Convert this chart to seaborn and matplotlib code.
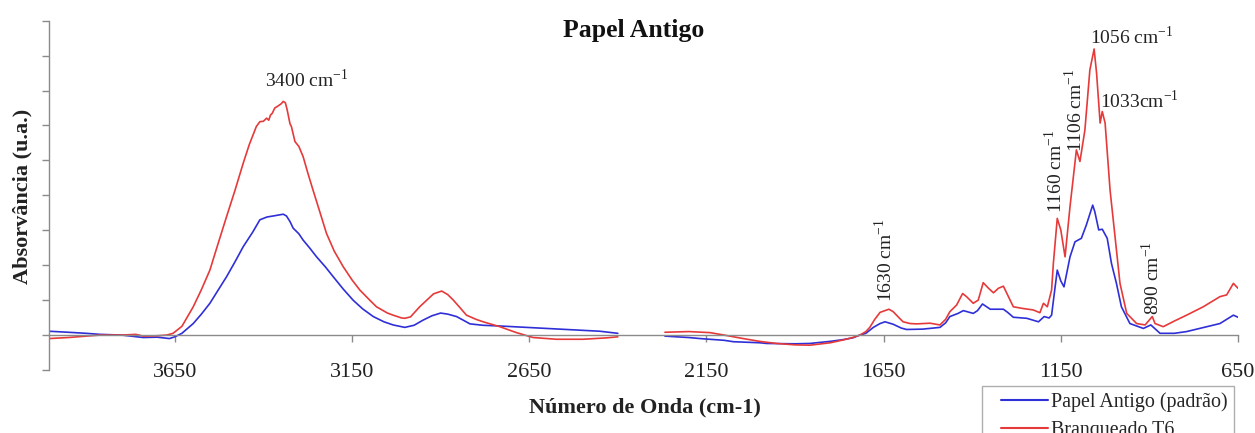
import numpy as np
import pandas as pd
import matplotlib
matplotlib.use("Agg")
import matplotlib.pyplot as plt
from matplotlib.legend_handler import HandlerLine2D
import seaborn as sns

# FTIR spectra, wavenumber (cm-1) vs absorbance (a.u.); the 2400-2267 cm-1 window is not recorded
serie_padrao = "Papel Antigo (padrão)"
serie_t6 = "Branqueado T6"

wn_padrao_alto = [4005, 3950, 3900, 3861, 3800, 3739, 3700, 3665, 3650, 3630, 3598, 3575,
                  3551, 3530, 3504, 3480, 3457, 3430, 3410, 3390, 3372, 3344, 3335, 3325,
                  3316, 3300, 3288, 3270, 3250, 3225, 3203, 3175, 3147, 3120, 3090, 3060,
                  3034, 3001, 2975, 2949, 2925, 2900, 2880, 2855, 2835, 2817, 2780, 2733,
                  2639, 2545, 2451, 2400]
abs_padrao_alto = [0.11, 0.08, 0.05, 0.02, 0.00, -0.07, -0.06, -0.10, -0.05, 0.05, 0.33, 0.60,
                   0.91, 1.25, 1.67, 2.10, 2.53, 2.95, 3.30, 3.38, 3.41, 3.46, 3.41, 3.25,
                   3.06, 2.90, 2.72, 2.50, 2.24, 1.95, 1.67, 1.32, 1.00, 0.75, 0.53, 0.38,
                   0.29, 0.22, 0.28, 0.43, 0.55, 0.63, 0.60, 0.53, 0.42, 0.32, 0.28, 0.26,
                   0.21, 0.16, 0.11, 0.05]

wn_padrao_baixo = [2267, 2200, 2168, 2100, 2074, 2000, 1980, 1900, 1858, 1800, 1764, 1737,
                   1717, 1700, 1679, 1660, 1646, 1623, 1600, 1585, 1540, 1491, 1475, 1463,
                   1440, 1425, 1397, 1385, 1371, 1349, 1312, 1300, 1284, 1246, 1213, 1197,
                   1183, 1176, 1166, 1160, 1150, 1141, 1124, 1110, 1092, 1078, 1060, 1054,
                   1043, 1033, 1019, 1007, 993, 979, 955, 917, 896, 870, 830, 795, 701,
                   663, 650]
abs_padrao_baixo = [-0.03, -0.07, -0.10, -0.15, -0.19, -0.22, -0.24, -0.25, -0.24, -0.18, -0.13, -0.08,
                    0.00, 0.05, 0.22, 0.33, 0.38, 0.31, 0.20, 0.16, 0.17, 0.22, 0.35, 0.53,
                    0.62, 0.70, 0.62, 0.70, 0.89, 0.74, 0.74, 0.65, 0.51, 0.48, 0.38, 0.53,
                    0.49, 0.57, 1.38, 1.86, 1.55, 1.38, 2.24, 2.67, 2.77, 3.15, 3.72, 3.53,
                    3.01, 3.03, 2.77, 2.05, 1.48, 0.81, 0.33, 0.19, 0.29, 0.05, 0.05, 0.10, 0.33,
                    0.57, 0.51]

wn_t6_alto = [4005, 3950, 3900, 3861, 3800, 3760, 3739, 3700, 3673, 3655, 3630, 3598,
              3575, 3551, 3530, 3504, 3480, 3457, 3440, 3420, 3410, 3400, 3391, 3385,
              3380, 3375, 3368, 3360, 3350, 3344, 3338, 3333, 3325, 3321, 3311, 3300,
              3288, 3275, 3260, 3240, 3222, 3200, 3175, 3150, 3128, 3100, 3081, 3050,
              3034, 3010, 3001, 2985, 2959, 2939, 2920, 2897, 2880, 2864, 2845, 2827,
              2800, 2780, 2733, 2686, 2639, 2573, 2498, 2432, 2400]
abs_t6_alto = [-0.10, -0.07, -0.03, 0.00, 0.00, 0.02, -0.03, -0.02, 0.00, 0.05, 0.25, 0.81,
               1.30, 1.86, 2.55, 3.39, 4.15, 4.92, 5.45, 5.97, 6.11, 6.12, 6.21, 6.15,
               6.30, 6.35, 6.50, 6.55, 6.62, 6.69, 6.65, 6.45, 6.05, 5.97, 5.54, 5.40,
               5.11, 4.65, 4.15, 3.50, 2.91, 2.40, 1.96, 1.58, 1.29, 1.00, 0.81, 0.63,
               0.57, 0.49, 0.48, 0.52, 0.81, 1.00, 1.18, 1.26, 1.16, 1.00, 0.78, 0.57,
               0.45, 0.38, 0.24, 0.07, -0.07, -0.12, -0.12, -0.08, -0.05]

wn_t6_baixo = [2267, 2200, 2140, 2100, 2046, 2000, 1952, 1900, 1858, 1800, 1764, 1737,
               1717, 1700, 1689, 1675, 1660, 1635, 1623, 1605, 1595, 1575, 1557, 1519,
               1491, 1475, 1463, 1444, 1427, 1416, 1397, 1383, 1369, 1354, 1340, 1326,
               1312, 1303, 1284, 1256, 1228, 1209, 1199, 1188, 1176, 1171, 1160, 1150,
               1138, 1124, 1106, 1096, 1082, 1068, 1056, 1049, 1039, 1033, 1025, 1011,
               997, 983, 964, 936, 912, 892, 884, 861, 830, 795, 748, 701, 682, 663, 650]
abs_t6_baixo = [0.08, 0.10, 0.07, 0.00, -0.10, -0.18, -0.24, -0.28, -0.29, -0.22, -0.14, -0.07,
                0.00, 0.10, 0.22, 0.45, 0.65, 0.74, 0.67, 0.48, 0.38, 0.33, 0.32, 0.34,
                0.29, 0.45, 0.67, 0.86, 1.19, 1.10, 0.91, 1.00, 1.50, 1.34, 1.21, 1.34,
                1.40, 1.21, 0.81, 0.76, 0.72, 0.64, 0.91, 0.81, 1.29, 2.05, 3.34, 3.01,
                2.24, 3.68, 5.30, 4.97, 5.87, 7.59, 8.19, 7.49, 6.07, 6.40, 6.07, 4.15,
                2.82, 1.48, 0.62, 0.33, 0.29, 0.53, 0.33, 0.24, 0.40, 0.57, 0.81, 1.10, 1.15, 1.48, 1.34]

# peak annotations: text, wavenumber, absorbance, rotation
rotulos = ["3400 cm$^{-1}$", "1630 cm$^{-1}$", "1160 cm$^{-1}$", "1106 cm$^{-1}$",
           "1056 cm$^{-1}$", "1033cm$^{-1}$", "890 cm$^{-1}$"]
rotulos_x = [3277, 1646, 1166, 1110, 1068, 1040, 894]
rotulos_y = [7.3, 0.95, 3.50, 5.24, 8.54, 6.72, 0.57]
rotulos_rot = [0, 90, 90, 90, 0, 0, 90]

ticks_x = [3650, 3150, 2650, 2150, 1650, 1150, 650]


def segmento(wn, ab, serie, nome):
    return pd.DataFrame({"wn": wn, "abs": ab, "amostra": serie, "segmento": nome})


df = pd.concat([
    segmento(wn_padrao_alto, abs_padrao_alto, serie_padrao, "alto"),
    segmento(wn_padrao_baixo, abs_padrao_baixo, serie_padrao, "baixo"),
    segmento(wn_t6_alto, abs_t6_alto, serie_t6, "alto"),
    segmento(wn_t6_baixo, abs_t6_baixo, serie_t6, "baixo"),
], ignore_index=True)

sns.set_theme(style="white")
plt.rcParams["font.family"] = ["Liberation Serif", "DejaVu Serif"]
plt.rcParams["mathtext.fontset"] = "custom"
plt.rcParams["mathtext.rm"] = "Liberation Serif"

fig = plt.figure(figsize=(12.55, 4.33), dpi=100)
ax = fig.add_axes([49 / 1255, 1 - 370 / 433, (1238 - 49) / 1255, (370 - 20.7) / 433])

sns.lineplot(data=df, x="wn", y="abs", hue="amostra", units="segmento", estimator=None,
             sort=False, hue_order=[serie_padrao, serie_t6],
             palette={serie_padrao: "#2f2fd8", serie_t6: "#e63a3a"},
             linewidth=1.2, ax=ax)

ax.set_xlim(4005, 650)
ax.set_ylim(-1, 9)

eixo = "#8a8a8a"
for lado in ("top", "right"):
    ax.spines[lado].set_visible(False)
ax.spines["left"].set_color(eixo)
ax.spines["bottom"].set_color(eixo)
ax.spines["bottom"].set_position(("data", 0))
ax.spines["left"].set_linewidth(1.0)
ax.spines["bottom"].set_linewidth(1.0)

ax.set_xticks(ticks_x)
ax.set_xticklabels([str(t) for t in ticks_x])
ax.set_yticks(np.arange(-1, 10, 1))
ax.set_yticklabels([])
ax.tick_params(axis="x", direction="out", length=5, width=1, color=eixo, pad=15,
               labelsize=16, labelcolor="#222222", bottom=True)
ax.tick_params(axis="y", direction="out", length=5, width=1, color=eixo, left=True)

ax.set_xlabel("Número de Onda (cm-1)", fontsize=16, fontweight="bold", color="#222222")
ax.xaxis.set_label_coords(0.501, -0.08)
ax.set_ylabel("Absorvância (u.a.)", fontsize=16, fontweight="bold", color="#222222")
ax.yaxis.set_label_coords(-0.0143, 0.497)

fig.text(634 / 1255, 1 - 31 / 433, "Papel Antigo", ha="center", va="center",
         fontsize=18.5, fontweight="bold", color="#111111")

for txt, x, y, rot in zip(rotulos, rotulos_x, rotulos_y, rotulos_rot):
    if rot == 90:
        ax.text(x, y, txt, rotation=90, ha="center", va="bottom", fontsize=14, color="#222222")
    elif x > 2000:
        ax.text(x, y, txt, ha="center", va="center", fontsize=14, color="#222222")
    else:
        ax.text(x, y, txt, ha="left", va="center", fontsize=14, color="#222222")

handles, labels = ax.get_legend_handles_labels()
leg = ax.legend(handles, labels, loc="upper left",
                bbox_to_anchor=(982 / 1255, 1 - 386 / 433), bbox_transform=fig.transFigure,
                fontsize=14.4, frameon=True, fancybox=False, edgecolor="#9a9a9a",
                handlelength=3.0, handletextpad=0.15, borderpad=0.3, labelspacing=0.45,
                borderaxespad=0, handler_map={h: HandlerLine2D(xpad=0.65) for h in handles})
leg.get_frame().set_linewidth(1.0)
for ln in leg.get_lines():
    ln.set_linewidth(1.5)

fig.savefig("out.png", dpi=100)
